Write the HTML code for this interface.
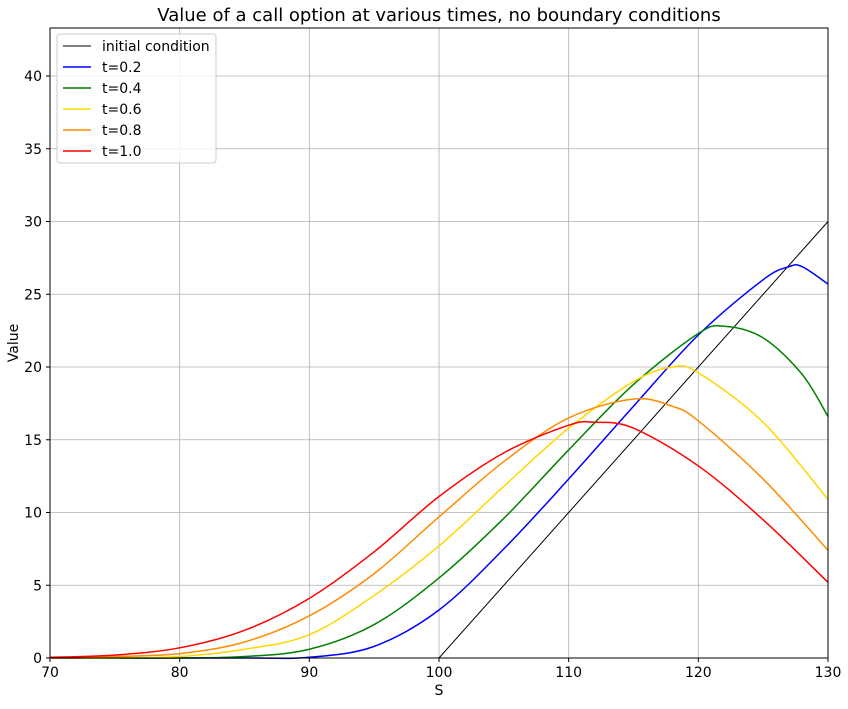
<!DOCTYPE html>
<html><head><meta charset="utf-8"><style>
body{margin:0;background:#fff;font-family:"Liberation Sans","DejaVu Sans",sans-serif;}
text{font-family:"DejaVu Sans","Liberation Sans",sans-serif;}
</style></head><body>
<svg id="chart" width="848" height="704" xmlns="http://www.w3.org/2000/svg"></svg>
<script>
const xTicks=[70,80,90,100,110,120,130];
const yTicks=[0,5,10,15,20,25,30,35,40];
const seriesNames=["initial condition","t=0.2","t=0.4","t=0.6","t=0.8","t=1.0"];
const seriesColors=["#000","#0000ff","#008000","#ffd700","#ff8c00","#ff0000"];
const sInit=[70,100,130]; const vInit=[0,0,30];
const s02=[70,85,90,95,100,105,110,115,120,125,127,128,130]; const v02=[0,0,0.05,0.8,3.3,7.5,12.3,17.3,22.2,26.0,26.9,26.9,25.7];
const s04=[70,80,85,90,95,100,105,110,115,120,122,125,128,130]; const v04=[0,0,0.1,0.6,2.3,5.5,9.6,14.3,18.8,22.3,22.8,22.0,19.5,16.6];
const s06=[70,75,80,85,90,95,100,105,110,115,118,120,125,130]; const v06=[0,0,0.1,0.6,1.6,4.3,7.7,11.8,15.8,19.0,20.0,19.6,16.2,10.9];
const s08=[70,75,80,85,90,95,100,105,110,115,118,120,125,130]; const v08=[0,0.1,0.3,1.1,2.9,5.8,9.7,13.5,16.5,17.8,17.3,16.3,12.3,7.4];
const s10=[70,75,80,85,90,95,100,105,110,112,115,120,125,130]; const v10=[0.05,0.2,0.7,1.9,4.1,7.3,11.1,14.1,16.0,16.2,15.8,13.2,9.5,5.2];
const SX=[sInit,s02,s04,s06,s08,s10], VY=[vInit,v02,v04,v06,v08,v10];
const L=50,R=828,T=28,B=658,xMin=70,xMax=130,yMin=0,yMax=43.3;
const xs=v=>L+(v-xMin)/(xMax-xMin)*(R-L);
const ys=v=>B-(v-yMin)/(yMax-yMin)*(B-T);
const svg=document.getElementById('chart');const NS="http://www.w3.org/2000/svg";
function mk(t,a,p){const e=document.createElementNS(NS,t);for(const k in a)e.setAttribute(k,a[k]);(p||svg).appendChild(e);return e;}
const grid=mk('g',{});
xTicks.forEach(v=>{mk('line',{x1:xs(v),x2:xs(v),y1:T,y2:B,stroke:'#b0b0b0','stroke-width':0.8},grid);
 const t=mk('text',{x:xs(v),y:B+19,'text-anchor':'middle','font-size':14});t.textContent=v;
 
 mk('line',{x1:xs(v),x2:xs(v),y1:B,y2:B+4,stroke:'#000'});});
yTicks.forEach(v=>{mk('line',{x1:L,x2:R,y1:ys(v),y2:ys(v),stroke:'#b0b0b0','stroke-width':0.8},grid);
 const t=mk('text',{x:L-8,y:ys(v)+5,'text-anchor':'end','font-size':14});t.textContent=v;
 
 mk('line',{x1:L-4,x2:L,y1:ys(v),y2:ys(v),stroke:'#000'});});
function pathFor(sx,vy,smooth){const p=sx.map((s,i)=>[xs(s),ys(vy[i])]);
 if(!smooth)return 'M'+p.map(q=>q.join(',')).join('L');
 let d='M'+p[0].join(',');
 for(let i=0;i<p.length-1;i++){const p0=p[i-1]||p[i],p1=p[i],p2=p[i+1],p3=p[i+2]||p[i+1];
  const c1=[p1[0]+(p2[0]-p0[0])/6,p1[1]+(p2[1]-p0[1])/6],c2=[p2[0]-(p3[0]-p1[0])/6,p2[1]-(p3[1]-p1[1])/6];
  d+='C'+c1.join(',')+' '+c2.join(',')+' '+p2.join(',');}return d;}
SX.forEach((sx,i)=>{const e=mk('path',{d:pathFor(sx,VY[i],i>0),fill:'none',stroke:seriesColors[i],'stroke-width':i==0?1:1.5});
 });
const fr=mk('rect',{x:L,y:T,width:R-L,height:B-T,fill:'none',stroke:'#000','stroke-width':1});

const tt=mk('text',{x:(L+R)/2,y:21,'text-anchor':'middle','font-size':18});tt.textContent='Value of a call option at various times, no boundary conditions';

const xl=mk('text',{x:(L+R)/2,y:695,'text-anchor':'middle','font-size':14});xl.textContent='S';

const yl=mk('text',{x:18,y:(T+B)/2,'text-anchor':'middle','font-size':14,transform:'rotate(-90 18 '+(T+B)/2+')'});yl.textContent='Value';

const lg=mk('g',{});
mk('rect',{x:57,y:34,width:159,height:129,rx:3,fill:'#fff','fill-opacity':0.8,stroke:'#ccc'},lg);
seriesNames.forEach((n,i)=>{const y=46+i*21;const g=mk('g',{},lg);
 
 mk('line',{x1:63,x2:91,y1:y,y2:y,stroke:seriesColors[i],'stroke-width':i==0?1:1.5},g);
 const t=mk('text',{x:102,y:y+5,'font-size':14},g);t.textContent=n;});
</script></body></html>
